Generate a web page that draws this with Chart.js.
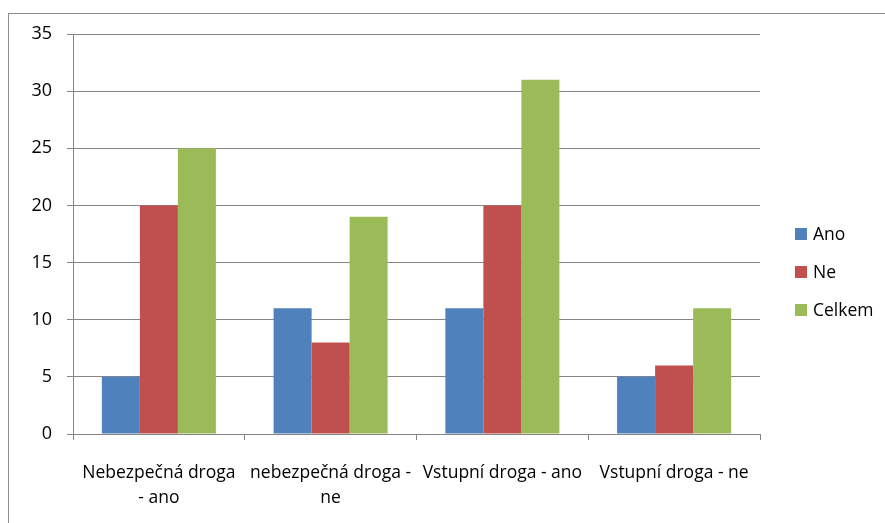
<!DOCTYPE html>
<html>
<head>
<meta charset="utf-8">
<script src="https://cdn.jsdelivr.net/npm/chart.js@4"></script>
<style>
  html, body { margin: 0; padding: 0; background: #fff; }
  #wrap { width: 885px; height: 523px; position: relative; }
</style>
</head>
<body>
<div id="wrap"><canvas id="graf" width="885" height="523"></canvas></div>
<script>
// kategorie a hodnoty
let kategorie = [["Nebezpečná droga", "- ano"], ["nebezpečná droga -", "ne"], "Vstupní droga - ano", "Vstupní droga - ne"];
let ano = [5, 11, 11, 5];
let ne = [20, 8, 20, 6];
let celkem = [25, 19, 31, 11];
let yTicks = [0, 5, 10, 15, 20, 25, 30, 35];

let pismo = "'Open Sans', 'DejaVu Sans', sans-serif";
let seda = "#868686";

// ramecek kolem grafu + legenda vpravo
let ramecekALegenda = {
    id: "ramecekALegenda",
    afterDraw: function (chart) {
        let ctx = chart.ctx;
        ctx.save();
        ctx.strokeStyle = "#8c8c8c";
        ctx.lineWidth = 1;
        ctx.strokeRect(8.5, 13.5, 900, 600);

        let y0 = 234;
        ctx.font = "17.5px " + pismo;
        ctx.textBaseline = "middle";
        chart.data.datasets.forEach(function (ds, i) {
            let y = y0 + i * 38;
            ctx.fillStyle = ds.backgroundColor;
            ctx.fillRect(795, y - 6, 12, 12);
            ctx.fillStyle = "#000";
            ctx.fillText(ds.label, 813, y + 1);
        });
        ctx.restore();
    }
};

let ctx = document.getElementById("graf").getContext("2d");
let chart = new Chart(ctx, {
    type: "bar",
    data: {
        labels: kategorie,
        datasets: [
            { label: "Ano", data: ano, backgroundColor: "#4F81BD" },
            { label: "Ne", data: ne, backgroundColor: "#C0504D" },
            { label: "Celkem", data: celkem, backgroundColor: "#9BBB59" }
        ]
    },
    options: {
        responsive: false,
        animation: false,
        layout: { padding: { left: 0, top: 34, right: 125, bottom: 0 } },
        datasets: { bar: { categoryPercentage: 0.664, barPercentage: 1.0 } },
        plugins: {
            legend: { display: false },
            tooltip: { enabled: false }
        },
        scales: {
            x: {
                afterFit: function (s) { s.height = 89; },
                grid: { offset: true, drawOnChartArea: false, color: seda, tickLength: 6 },
                border: { color: seda },
                ticks: { color: "#000", font: { family: pismo, size: 17.5, lineHeight: 1.45 }, padding: 20, maxRotation: 0, autoSkip: false }
            },
            y: {
                min: 0,
                max: 35,
                afterFit: function (s) { s.width = 73; },
                afterBuildTicks: function (s) { s.ticks = yTicks.map(function (v) { return { value: v }; }); },
                grid: { color: seda, tickLength: 6 },
                border: { color: seda },
                ticks: { color: "#000", font: { family: pismo, size: 18 }, padding: 15 }
            }
        }
    },
    plugins: [ramecekALegenda]
});
</script>
</body>
</html>
